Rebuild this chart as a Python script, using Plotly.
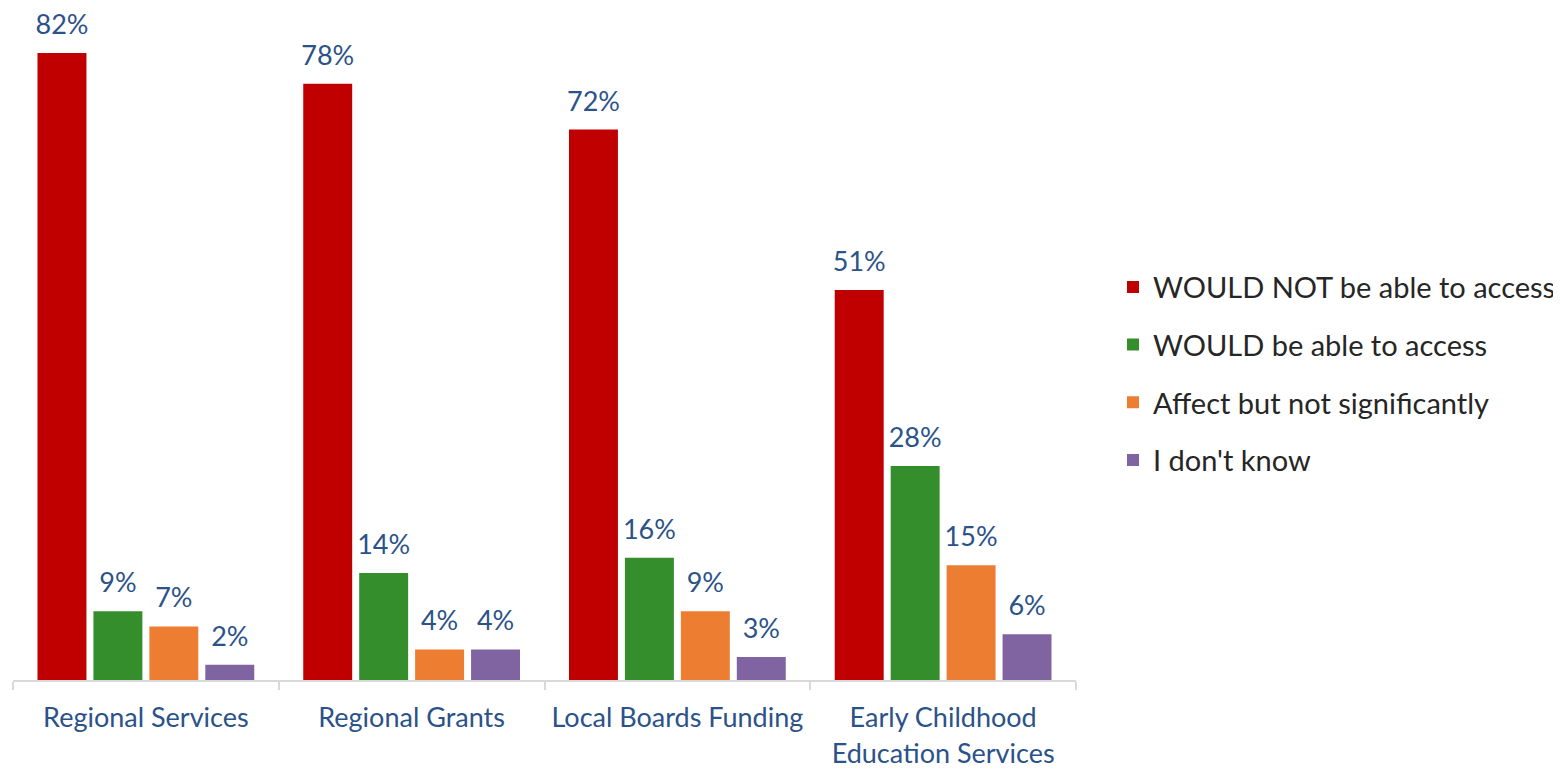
import plotly.graph_objects as go

categories = ["Regional Services", "Regional Grants", "Local Boards Funding",
              "Early Childhood<br>Education Services"]
series_names = ["WOULD NOT be able to access", "WOULD be able to access",
                "Affect but not significantly", "I don't know"]
would_not = [82, 78, 72, 51]
would = [9, 14, 16, 28]
affect = [7, 4, 9, 15]
dont_know = [2, 4, 3, 6]

colors = ["#C00000", "#348E2B", "#ED7D31", "#8064A2"]
LABEL_BLUE = "#2B5289"
FONT = "Lato"

fig = go.Figure()
for i, (name, vals, col) in enumerate(zip(series_names, [would_not, would, affect, dont_know], colors)):
    fig.add_trace(go.Bar(
        x=categories, y=vals, name=name,
        marker=dict(color=col, line=dict(width=0)),
        offsetgroup=str(i), alignmentgroup="a",
        legendgroup=name,
        hoverinfo="skip",
    ))
    # value labels sit above the bars, same slot as the bar
    fig.add_trace(go.Scatter(
        x=categories, y=vals, mode="markers+text",
        text=[f"{v}%" for v in vals], textposition="top center",
        textfont=dict(family=FONT, size=27, color=LABEL_BLUE),
        marker=dict(size=18, opacity=0),
        offsetgroup=str(i), alignmentgroup="a",
        showlegend=False, hoverinfo="skip", cliponaxis=False,
    ))

fig.update_layout(
    width=1553, height=761,
    margin=dict(l=5, r=484, t=0, b=87),
    barmode="group", bargap=0.158, bargroupgap=0.125,
    scattermode="group", scattergap=0.158,
    plot_bgcolor="white", paper_bgcolor="white",
    font=dict(family=FONT),
    showlegend=True,
    legend=dict(
        x=1.035, xanchor="left", y=0.456, yanchor="middle",
        font=dict(family=FONT, size=29, color="#262626"),
        tracegroupgap=17, itemsizing="constant",
    ),
    xaxis=dict(
        showline=True, linecolor="#D9D9D9", linewidth=2,
        ticks="outside", tickson="boundaries", ticklen=8, tickcolor="#D9D9D9",
        tickwidth=1.5,
        tickfont=dict(family=FONT, size=27, color=LABEL_BLUE),
        ticklabelstandoff=13,
    ),
    yaxis=dict(range=[0, 87.9], visible=False),
)

fig.write_html("out.html")
